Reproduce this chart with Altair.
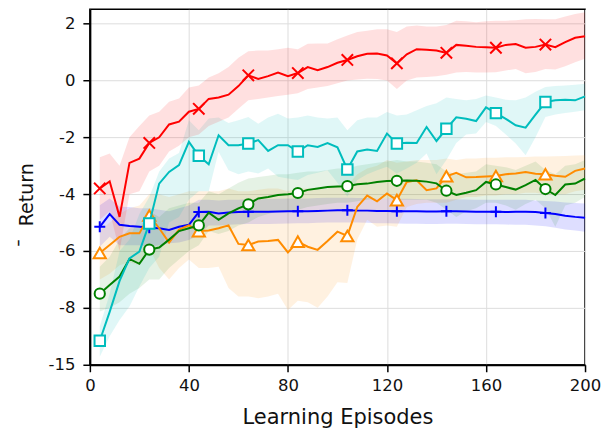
import altair as alt
import pandas as pd

episodes = list(range(4, 201, 4))

red_mean = [-3.8, -3.55, -4.8, -2.9, -2.75, -2.2, -2.0, -1.55, -1.45, -1.1,
            -1.0, -0.65, -0.6, -0.5, -0.2, 0.18, 0.05, 0.15, 0.28, 0.15,
            0.26, 0.47, 0.36, 0.47, 0.62, 0.72, 0.85, 0.94, 0.95, 0.88,
            0.6, 0.92, 1.1, 1.08, 1.05, 0.97, 1.25, 1.22, 1.18, 1.17,
            1.15, 1.25, 1.28, 1.15, 1.18, 1.26, 1.17, 1.35, 1.5, 1.55]
red_hi = [-2.7, -2.57, -3.0, -2.0, -1.6, -1.23, -1.1, -0.75, -0.64, -0.25,
          -0.18, 0.1, 0.25, 0.47, 0.8, 1.03, 1.05, 1.05, 1.1, 1.15,
          1.1, 1.29, 1.3, 1.3, 1.45, 1.58, 1.7, 1.75, 1.8, 1.8,
          1.7, 1.9, 1.93, 1.9, 1.9, 1.95, 2.1, 2.08, 2.05, 2.08,
          2.1, 2.1, 2.12, 2.15, 2.16, 2.15, 2.15, 2.25, 2.34, 2.4]
red_lo = [-4.9, -4.6, -6.0, -4.0, -3.9, -3.2, -3.0, -2.5, -2.3, -2.0,
          -1.9, -1.6, -1.45, -1.3, -1.0, -0.7, -0.65, -0.6, -0.55, -0.5,
          -0.45, -0.3, -0.25, -0.2, -0.1, 0.0, 0.03, 0.06, 0.05, 0.0,
          -0.3, 0.0, 0.1, 0.12, 0.15, 0.2, 0.28, 0.3, 0.28, 0.28,
          0.29, 0.35, 0.4, 0.25, 0.3, 0.4, 0.38, 0.5, 0.64, 0.76]

cyan_mean = [-12.05, -8.5, -7.05, -6.26, -6.02, -5.03, -3.63, -3.22, -2.98, -2.16,
             -2.65, -2.95, -1.93, -2.28, -2.28, -2.22, -2.1, -2.48, -2.28, -2.28,
             -2.5, -2.28, -2.34, -2.2, -2.35, -3.13, -2.5, -2.43, -2.48, -1.87,
             -2.22, -2.19, -2.2, -1.64, -2.13, -1.7, -1.3, -1.35, -1.43, -0.95,
             -1.15, -1.35, -1.58, -1.66, -1.2, -0.76, -0.7, -0.68, -0.7, -0.56]
cyan_hi = [-10.3, -7.5, -6.0, -5.6, -4.7, -4.1, -3.2, -2.75, -2.55, -1.4,
           -1.75, -1.34, -1.3, -1.5, -1.4, -1.29, -1.52, -1.3, -1.17, -1.34,
           -1.3, -1.23, -1.3, -1.34, -1.3, -1.75, -1.4, -1.3, -1.3, -1.11,
           -1.23, -1.2, -1.05, -0.9, -0.8, -0.6, -0.65, -0.7, -0.65, -0.53,
           -0.6, -0.68, -0.7, -0.6, -0.4, -0.23, -0.2, -0.18, -0.15, -0.12]
cyan_lo = [-14.0, -11.5, -9.5, -7.95, -7.25, -6.6, -6.2, -5.0, -4.8, -4.2,
           -3.9, -3.9, -2.51, -3.16, -3.3, -3.2, -3.27, -3.1, -3.39, -3.45,
           -3.5, -3.33, -3.25, -3.16, -3.6, -4.09, -3.5, -3.3, -3.16, -3.04,
           -3.27, -3.1, -2.9, -2.57, -3.3, -2.8, -2.2, -1.9, -1.87, -1.46,
           -1.6, -1.9, -2.22, -2.63, -2.0, -1.29, -1.2, -1.15, -1.1, -1.05]

orange_mean = [-6.07, -5.79, -5.5, -5.38, -5.38, -4.75, -5.2, -5.7, -5.25, -5.1,
               -5.3, -5.28, -5.2, -5.1, -5.75, -5.79, -5.67, -5.65, -5.61, -6.05,
               -5.67, -5.85, -5.96, -5.65, -5.32, -5.47, -4.45, -4.05, -4.25, -3.98,
               -4.21, -3.57, -3.51, -3.86, -3.8, -3.37, -3.25, -3.41, -3.4, -3.38,
               -3.36, -3.3, -3.27, -3.22, -3.28, -3.3, -3.35, -3.39, -3.18, -3.1]
orange_hi = [-5.3, -5.0, -4.7, -4.5, -4.4, -4.0, -4.0, -4.1, -4.0, -3.9,
             -3.9, -3.9, -3.9, -3.8, -3.9, -3.9, -3.85, -3.8, -3.8, -3.9,
             -3.8, -3.8, -3.85, -3.8, -3.7, -3.7, -3.3, -3.1, -3.0, -2.8,
             -2.9, -2.85, -2.8, -2.8, -2.8, -2.75, -2.8, -2.75, -2.75, -2.72,
             -2.72, -2.7, -2.7, -2.69, -2.68, -2.68, -2.67, -2.66, -2.64, -2.63]
orange_lo = [-7.0, -6.8, -6.5, -6.4, -6.5, -5.9, -6.6, -7.0, -6.6, -6.3,
             -6.6, -6.6, -6.55, -7.3, -7.6, -7.6, -7.66, -7.6, -7.5, -8.25,
             -7.75, -7.8, -8.0, -7.6, -7.1, -7.13, -5.6, -4.9, -5.15, -5.1,
             -5.15, -4.45, -4.35, -4.3, -4.3, -4.3, -4.2, -4.1, -4.1, -4.05,
             -4.05, -4.0, -4.0, -3.95, -3.95, -4.0, -4.0, -4.0, -3.9, -3.85]

green_mean = [-7.5, -7.2, -6.9, -6.28, -6.45, -5.95, -5.88, -5.6, -5.3, -5.2,
              -5.1, -4.65, -4.9, -4.68, -4.5, -4.36, -4.15, -4.1, -4.03, -4.0,
              -3.96, -3.85, -3.8, -3.75, -3.73, -3.72, -3.65, -3.63, -3.57, -3.54,
              -3.53, -3.52, -3.53, -3.56, -3.62, -3.88, -4.03, -3.95, -3.86, -3.57,
              -3.66, -3.75, -3.84, -3.68, -3.5, -3.82, -4.03, -3.66, -3.63, -3.45]
green_hi = [-6.55, -6.2, -5.6, -5.2, -5.2, -4.6, -4.8, -4.5, -4.4, -4.3,
            -4.3, -3.9, -4.0, -3.8, -3.6, -3.45, -3.4, -3.35, -3.3, -3.3,
            -3.25, -3.2, -3.2, -3.15, -3.1, -3.1, -3.0, -2.95, -2.9, -2.85,
            -2.8, -2.85, -2.85, -2.9, -2.95, -3.2, -3.3, -3.25, -3.2, -2.95,
            -3.0, -3.05, -3.15, -3.0, -2.85, -3.15, -3.3, -3.0, -2.95, -2.8]
green_lo = [-8.45, -8.0, -7.8, -7.5, -7.3, -7.0, -7.0, -6.6, -6.3, -6.0,
            -5.8, -5.3, -5.4, -5.3, -5.1, -5.0, -4.8, -4.7, -4.6, -4.6,
            -4.55, -4.45, -4.4, -4.35, -4.3, -4.3, -4.25, -4.2, -4.15, -4.15,
            -4.2, -4.2, -4.2, -4.2, -4.3, -4.55, -4.8, -4.6, -4.5, -4.3,
            -4.3, -4.4, -4.55, -4.35, -4.2, -4.5, -5.15, -4.4, -4.3, -4.1]

blue_mean = [-5.15, -4.7, -5.08, -5.12, -5.15, -5.18, -5.2, -5.26, -5.15, -5.08,
             -4.63, -4.62, -4.68, -4.65, -4.63, -4.62, -4.62, -4.62, -4.61, -4.6,
             -4.6, -4.6, -4.59, -4.58, -4.57, -4.57, -4.58, -4.58, -4.59, -4.59,
             -4.6, -4.6, -4.6, -4.61, -4.61, -4.6, -4.6, -4.61, -4.62, -4.62,
             -4.62, -4.63, -4.62, -4.62, -4.63, -4.66, -4.7, -4.76, -4.8, -4.83]
blue_hi = [-4.39, -4.15, -4.44, -4.45, -4.5, -4.5, -4.55, -4.6, -4.5, -4.4,
           -4.2, -4.2, -4.22, -4.2, -4.2, -4.18, -4.18, -4.17, -4.16, -4.15,
           -4.15, -4.15, -4.14, -4.13, -4.13, -4.13, -4.14, -4.14, -4.15, -4.15,
           -4.16, -4.16, -4.17, -4.18, -4.18, -4.18, -4.18, -4.19, -4.2, -4.2,
           -4.2, -4.2, -4.2, -4.2, -4.22, -4.24, -4.26, -4.29, -4.31, -4.33]
blue_lo = [-5.85, -5.5, -5.8, -5.8, -5.8, -5.85, -5.8, -5.73, -5.7, -5.61,
           -5.45, -5.1, -5.1, -5.08, -5.06, -5.05, -5.05, -5.05, -5.04, -5.03,
           -5.02, -5.02, -5.01, -5.0, -5.0, -5.0, -5.0, -5.01, -5.02, -5.02,
           -5.03, -5.04, -5.04, -5.05, -5.05, -5.04, -5.04, -5.05, -5.06, -5.06,
           -5.06, -5.07, -5.08, -5.08, -5.1, -5.13, -5.18, -5.24, -5.28, -5.32]

x_ticks = [0, 40, 80, 120, 160, 200]
y_ticks = [-15, -8, -6, -4, -2, 0, 2]

X_MARK = "M-1,-1L1,1M-1,1L1,-1"
PLUS_MARK = "M-1,0L1,0M0,-1L0,1"

series = [
    dict(color="#0000ff", mean=blue_mean, lo=blue_lo, hi=blue_hi, shape=PLUS_MARK, size=121, hollow=False, band=0.13),
    dict(color="#ff8c00", mean=orange_mean, lo=orange_lo, hi=orange_hi, shape="triangle-up", size=150, hollow=True, band=0.12),
    dict(color="#008000", mean=green_mean, lo=green_lo, hi=green_hi, shape="circle", size=105, hollow=True, band=0.1),
    dict(color="#00bdbd", mean=cyan_mean, lo=cyan_lo, hi=cyan_hi, shape="square", size=110, hollow=True, band=0.12),
    dict(color="#ff0000", mean=red_mean, lo=red_lo, hi=red_hi, shape=X_MARK, size=130, hollow=False, band=0.12),
]

hyphen_labels = "datum.value < 0 ? '-' + abs(datum.value) : '' + datum.value"

yscale = alt.Scale(domain=[-15, -8, 2.5], range=[356, 299, 0], zero=False, nice=False)
xscale = alt.Scale(domain=[0, 200], nice=False, zero=False)
xaxis = alt.Axis(values=x_ticks, title="Learning Episodes", titleY=59, titleBaseline="alphabetic",
                 labelFlush=False)
yaxis = alt.Axis(values=y_ticks, title="¯\u00a0\u00a0Return", titleX=-57, titleY=196,
                 titleBaseline="alphabetic", titleAngle=270, titleAlign="center",
                 labelExpr=hyphen_labels, labelFlush=False)

bands, lines = [], []
for s in series:
    df = pd.DataFrame({"ep": episodes, "mean": s["mean"], "lo": s["lo"], "hi": s["hi"]})
    base = alt.Chart(df)
    bands.append(base.mark_area(color=s["color"], opacity=s["band"]).encode(
        x=alt.X("ep:Q", scale=xscale, axis=xaxis),
        y=alt.Y("lo:Q", scale=yscale, axis=yaxis),
        y2="hi:Q"))
    lines.append(base.mark_line(color=s["color"], strokeWidth=2).encode(
        x=alt.X("ep:Q", scale=xscale, axis=xaxis),
        y=alt.Y("mean:Q", scale=yscale, axis=yaxis)))
    marks = df.iloc[::5]
    if s["hollow"]:
        pm = alt.Chart(marks).mark_point(shape=s["shape"], size=s["size"], filled=True, fill="white",
                                         stroke=s["color"], strokeWidth=2, opacity=1, fillOpacity=1)
    else:
        pm = alt.Chart(marks).mark_point(shape=s["shape"], size=s["size"], filled=False,
                                         stroke=s["color"], strokeWidth=2, opacity=1)
    lines.append(pm.encode(
        x=alt.X("ep:Q", scale=xscale, axis=xaxis),
        y=alt.Y("mean:Q", scale=yscale, axis=yaxis)))

chart = alt.layer(*bands, *lines).properties(
    width=496, height=356,
    autosize=alt.AutoSizeParams(type="none"),
    padding={"left": 82, "top": 1, "right": 20, "bottom": 66},
).configure_view(stroke="#000000", strokeWidth=1.5).configure_axis(
    domainColor="#000000", domainWidth=2, tickColor="#000000", tickWidth=1.5, tickSize=7,
    labelFont="DejaVu Sans", labelFontSize=16.5, labelColor="#111111",
    titleFont="DejaVu Sans", titleFontSize=21, titleFontWeight="normal", titleColor="#111111",
    gridColor="#dddddd", gridWidth=1,
).configure_axisX(labelPadding=6).configure_axisY(labelPadding=8, titleFontSize=19)

chart.save("out.html", embed_options={"renderer": "svg", "actions": False})
